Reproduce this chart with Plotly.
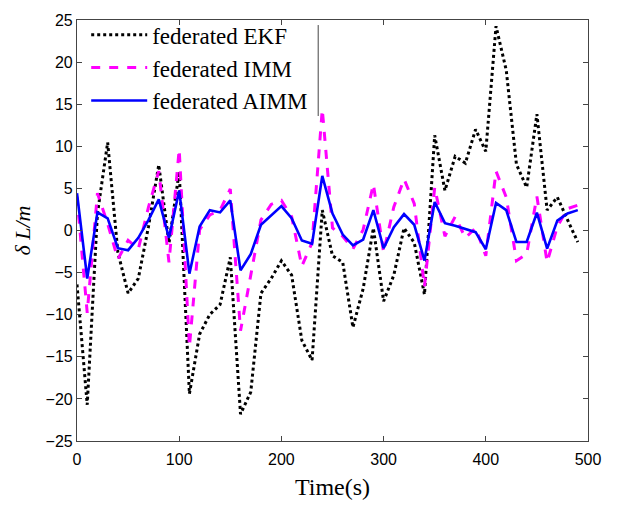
import plotly.graph_objects as go

time_s = [i * 10 for i in range(50)]

ekf = [-6.4, -20.7, 2.0, 10.46, -2.6, -7.45, -5.7, 0.5, 7.8, -1.5,
       7.0, -19.4, -12.3, -9.96, -8.8, -3.2, -21.8, -19.2, -7.45, -5.7,
       -3.6, -5.3, -13.05, -15.4, 2.42, -3.0, -3.77, -11.5, -6.9, 0.29,
       -8.4, -5.3, 0.29, -1.45, -7.6, 11.3, 4.74, 8.8, 8.0, 12.0,
       9.4, 24.26, 19.04, 7.83, 5.12, 13.82, 2.42, 3.96, 1.25, -1.37]

imm = [4.0, -9.77, 4.43, 0.8, -3.4, -1.18, -2.2, 2.8, 7.06, -3.77,
       9.65, -13.8, 0.1, 1.84, 2.42, 4.93, -11.9, -5.3, 1.26, 3.1,
       3.58, 1.64, -4.23, -1.45, 14.4, 0.3, -0.68, -2.2, 0.1, 5.5,
       -2.6, 2.8, 6.1, 3.2, -6.67, 5.1, -0.68, 1.64, -0.87, 0.29,
       -3.0, 7.05, 3.96, -3.58, -2.8, 4.04, -3.77, 0.48, 2.6, 3.0]

aimm = [4.43, -5.7, 2.15, 1.45, -2.1, -2.34, -0.87, 1.26, 3.69, -0.87,
        4.74, -5.13, 0.48, 2.42, 2.15, 3.58, -4.74, -2.8, 0.68, 1.76,
        2.9, 1.45, -1.18, -1.57, 6.48, 2.0, -0.48, -1.76, -1.07, 2.42,
        -2.11, 0.4, 1.95, 0.68, -3.58, 3.38, 0.87, 0.56, 0.21, -0.2,
        -2.23, 3.27, 2.42, -1.37, -1.37, 2.11, -2.15, 1.18, 2.03, 2.42]

x_ticks = [0, 100, 200, 300, 400, 500]
y_ticks = [-25, -20, -15, -10, -5, 0, 5, 10, 15, 20, 25]

fig = go.Figure()
fig.add_trace(go.Scatter(x=time_s, y=ekf, mode="lines", name="federated EKF",
                         line=dict(color="black", width=3, dash="dot")))
fig.add_trace(go.Scatter(x=time_s, y=imm, mode="lines", name="federated IMM",
                         line=dict(color="#FF00FF", width=3, dash="dash")))
fig.add_trace(go.Scatter(x=time_s, y=aimm, mode="lines", name="federated AIMM",
                         line=dict(color="#0000FF", width=2.6)))

axis_common = dict(showline=True, linecolor="#444", linewidth=1.2, mirror="ticks",
                   ticks="inside", ticklen=5, tickcolor="#444", showgrid=False,
                   zeroline=False, tickfont=dict(family="Liberation Sans", size=16, color="black"))

fig.update_xaxes(range=[0, 500], tickvals=x_ticks, ticklabelstandoff=4,
                 title=dict(text="Time(s)", font=dict(family="Liberation Serif", size=24, color="black"), standoff=10),
                 **axis_common)
fig.update_yaxes(range=[-25, 25], tickvals=y_ticks,
                 title=dict(text="<i>δ L/m</i>", font=dict(family="Liberation Serif", size=22, color="black"), standoff=8),
                 **axis_common)

fig.add_shape(type="line", xref="x", yref="y", x0=236, x1=236, y0=24.4, y1=13.6,
              line=dict(color="#444", width=1))

fig.update_layout(
    width=617, height=507,
    margin=dict(l=77, r=29, t=12, b=64),
    plot_bgcolor="white", paper_bgcolor="white",
    showlegend=True,
    legend=dict(x=0.018, y=1.016, xanchor="left", yanchor="top",
                bgcolor="rgba(0,0,0,0)", borderwidth=0,
                font=dict(family="Liberation Serif", size=23, color="black"),
                itemwidth=56, tracegroupgap=0),
)

fig.write_html("out.html")
